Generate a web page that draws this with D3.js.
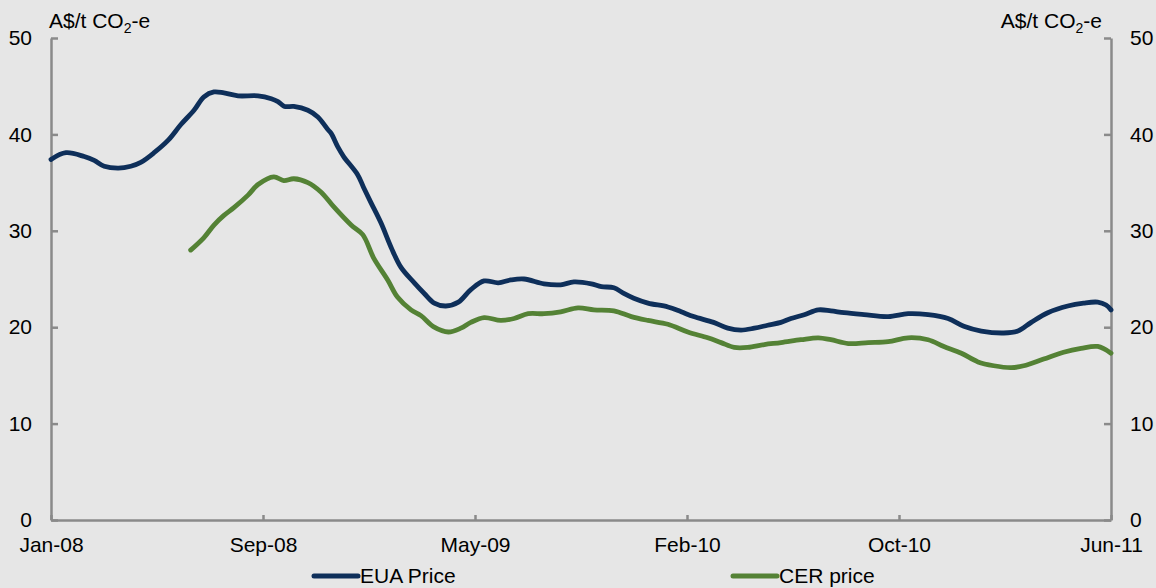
<!DOCTYPE html>
<html>
<head>
<meta charset="utf-8">
<script src="https://cdn.jsdelivr.net/npm/d3@7"></script>
<style>
  html, body { margin: 0; padding: 0; background: #e6e6e6; }
  svg { display: block; }
  text { font-family: "Liberation Sans", Arial, sans-serif; fill: #000; }
</style>
</head>
<body>
<svg id="chart" width="1156" height="588"></svg>
<script>
// ---- Data ----
const euaDates = ["2008-01-01","2008-01-19","2008-02-10","2008-02-22","2008-03-05","2008-03-22","2008-04-06","2008-04-18","2008-05-04","2008-05-21","2008-06-05","2008-06-21","2008-07-03","2008-07-15","2008-07-27","2008-08-13","2008-09-06","2008-09-22","2008-09-30","2008-10-08","2008-10-19","2008-11-05","2008-11-17","2008-11-29","2008-12-03","2008-12-11","2008-12-18","2009-01-04","2009-01-11","2009-01-20","2009-02-01","2009-02-13","2009-02-25","2009-03-13","2009-03-25","2009-04-06","2009-04-20","2009-05-05","2009-05-20","2009-06-05","2009-06-22","2009-07-07","2009-07-23","2009-08-16","2009-09-05","2009-09-21","2009-10-12","2009-10-24","2009-11-08","2009-11-20","2009-12-02","2009-12-19","2010-01-12","2010-01-28","2010-02-12","2010-03-08","2010-03-25","2010-04-10","2010-04-26","2010-05-12","2010-05-28","2010-06-09","2010-06-25","2010-07-12","2010-07-27","2010-08-12","2010-09-05","2010-10-04","2010-10-28","2010-11-21","2010-12-15","2011-01-03","2011-01-24","2011-02-20","2011-03-09","2011-03-25","2011-04-14","2011-05-08","2011-05-27","2011-06-13","2011-06-23","2011-06-29"];
const euaValues = [37.4,38.1,37.7,37.3,36.7,36.5,36.7,37.1,38.1,39.4,41.0,42.5,43.9,44.4,44.3,44.0,44.0,43.7,43.4,42.9,42.9,42.5,41.8,40.5,40.1,38.7,37.7,35.8,34.5,32.9,30.8,28.3,26.2,24.6,23.5,22.5,22.2,22.6,23.9,24.8,24.6,24.9,25.0,24.5,24.4,24.7,24.5,24.2,24.1,23.5,23.0,22.5,22.1,21.6,21.1,20.5,19.9,19.7,19.9,20.2,20.5,20.9,21.3,21.8,21.7,21.5,21.3,21.1,21.4,21.3,20.9,20.1,19.6,19.4,19.6,20.5,21.5,22.2,22.5,22.6,22.3,21.8];

const cerDates = ["2008-06-17","2008-07-03","2008-07-15","2008-07-27","2008-08-08","2008-08-25","2008-09-06","2008-09-25","2008-10-07","2008-10-19","2008-11-05","2008-11-21","2008-12-06","2008-12-27","2009-01-10","2009-01-23","2009-02-09","2009-02-21","2009-03-09","2009-03-21","2009-04-06","2009-04-23","2009-05-08","2009-05-20","2009-06-05","2009-06-25","2009-07-11","2009-07-28","2009-08-16","2009-09-05","2009-09-26","2009-10-15","2009-11-08","2009-11-29","2009-12-19","2010-01-12","2010-02-05","2010-03-01","2010-03-17","2010-04-02","2010-04-18","2010-05-08","2010-05-28","2010-06-21","2010-07-12","2010-07-27","2010-08-17","2010-09-10","2010-10-04","2010-10-28","2010-11-21","2010-12-10","2010-12-31","2011-01-20","2011-02-08","2011-03-01","2011-03-16","2011-04-09","2011-05-03","2011-05-24","2011-06-13","2011-06-29"];
const cerValues = [28.0,29.3,30.6,31.6,32.4,33.7,34.8,35.6,35.2,35.4,35.0,34.0,32.5,30.6,29.6,27.2,24.9,23.1,21.8,21.2,20.0,19.5,19.9,20.5,21.0,20.7,20.9,21.4,21.4,21.6,22.0,21.8,21.7,21.1,20.7,20.3,19.5,18.9,18.4,17.9,17.9,18.2,18.4,18.7,18.9,18.7,18.3,18.4,18.5,18.9,18.7,18.0,17.3,16.4,16.0,15.8,16.0,16.7,17.4,17.8,18.0,17.3];

const xTickDates = ["2008-01-01","2008-09-12","2009-05-25","2010-02-04","2010-10-17","2011-06-29"];
const yTicks = [0, 10, 20, 30, 40, 50];
const seriesNames = ["EUA Price", "CER price"];
const unitLabel = "A$/t CO";

// ---- Setup ----
const parse = d3.utcParse("%Y-%m-%d");
const fmt = d3.utcFormat("%b-%y");
const svg = d3.select("#chart");
const W = 1156, H = 588;
const m = { left: 51, right: 1111, top: 38, bottom: 520 };
const axisColor = "#8a8a8a";
const colors = ["#0e2f5a", "#548235"];
const FS = "21px";

const x = d3.scaleUtc()
  .domain([parse(xTickDates[0]), parse(xTickDates[xTickDates.length - 1])])
  .range([m.left, m.right]);
const y = d3.scaleLinear().domain([0, 50]).range([m.bottom, m.top]);

svg.append("rect").attr("width", W).attr("height", H).attr("fill", "#e6e6e6");

// Left axis
const leftAxis = d3.axisLeft(y).tickValues(yTicks).tickSizeInner(-7).tickSizeOuter(0).tickPadding(19);
const gL = svg.append("g").attr("transform", `translate(${m.left},0)`).call(leftAxis);
// Right axis
const rightAxis = d3.axisRight(y).tickValues(yTicks).tickSizeInner(-7).tickSizeOuter(0).tickPadding(19);
const gR = svg.append("g").attr("transform", `translate(${m.right},0)`).call(rightAxis);
// Bottom axis
const bottomAxis = d3.axisBottom(x).tickValues(xTickDates.map(parse)).tickFormat(fmt)
  .tickSizeInner(-5).tickSizeOuter(0).tickPadding(17);
const gB = svg.append("g").attr("transform", `translate(0,${m.bottom})`).call(bottomAxis);

[gL, gR, gB].forEach(g => {
  g.selectAll(".domain").attr("stroke", axisColor).attr("stroke-width", 2.5);
  g.selectAll(".tick line").attr("stroke", axisColor).attr("stroke-width", 2.5);
  g.selectAll("text").style("font-size", FS).attr("fill", "#000")
    .style("font-family", "'Liberation Sans', Arial, sans-serif");
});

// Unit labels
function unit(xPos, anchor) {
  const t = svg.append("text").attr("x", xPos).attr("y", 28)
    .attr("text-anchor", anchor).style("font-size", FS);
  t.append("tspan").text(unitLabel);
  t.append("tspan").text("2").style("font-size", "14px").attr("dy", 5);
  t.append("tspan").text("-e").attr("dy", -5);
}
unit(49, "start");
unit(1102, "end");

// Lines
const line = d3.line().x(d => x(d[0])).y(d => y(d[1])).curve(d3.curveCatmullRom.alpha(0.5));
const series = [
  euaDates.map((d, i) => [parse(d), euaValues[i]]),
  cerDates.map((d, i) => [parse(d), cerValues[i]])
];
series.forEach((s, i) => {
  svg.append("path").datum(s).attr("d", line)
    .attr("fill", "none").attr("stroke", colors[i]).attr("stroke-width", 4.8)
    .attr("stroke-linejoin", "round").attr("stroke-linecap", "round");
});

// Legend
const legendX = [314, 733];
seriesNames.forEach((name, i) => {
  svg.append("line").attr("x1", legendX[i]).attr("x2", legendX[i] + 44)
    .attr("y1", 576).attr("y2", 576)
    .attr("stroke", colors[i]).attr("stroke-width", 5).attr("stroke-linecap", "round");
  svg.append("text").attr("x", legendX[i] + 46).attr("y", 583)
    .style("font-size", FS).text(name);
});
</script>
</body>
</html>
